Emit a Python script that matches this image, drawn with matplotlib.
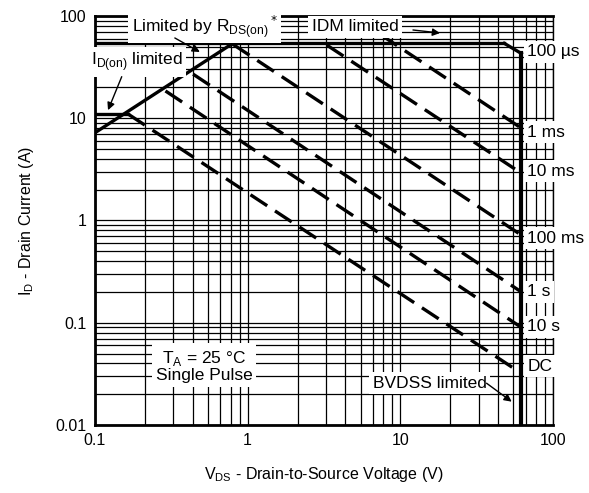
import matplotlib.pyplot as plt
from matplotlib.ticker import FixedLocator, NullFormatter

plt.rcParams['font.family'] = ['Liberation Sans', 'DejaVu Sans']

# limit lines, V and A
rds_v = [0.1, 0.8]
rds_i = [7.2, 54]
idon_v = [0.1, 0.165]
idon_i = [11, 11]
idm_v = [0.1, 48]
idm_i = [54, 54]
us100_v = [48, 62]
us100_i = [54, 43]
bvdss_v = [62, 62]
bvdss_i = [43, 0.01]

# single pulse lines
pulse_labels = ['1 ms', '10 ms', '100 ms', '1 s', '10 s', 'DC']
pulse_v = [[7.4, 62], [3.3, 62], [0.8, 62], [0.44, 62], [0.29, 62], [0.165, 62]]
pulse_i = [[66, 8.0], [52, 2.9], [53, 0.72], [27, 0.2], [18.5, 0.09], [11, 0.032]]
label_i = [7.3, 3.04, 0.674, 0.2, 0.0912, 0.0376]

xticks = [0.1, 1, 10, 100]
yticks = [0.01, 0.1, 1, 10, 100]

fig = plt.figure(figsize=(5.89, 4.93), dpi=100)
ax = fig.add_axes([0.161, 0.138, 0.778, 0.8295])
ax.set_xscale('log')
ax.set_yscale('log')
ax.set_xlim(0.1, 100)
ax.set_ylim(0.01, 100)

# grid as in the datasheet
xminor = [d * (1 + 1.125 * k) for d in (0.1, 1, 10) for k in range(1, 8)]
ax.xaxis.set_major_locator(FixedLocator(xticks))
ax.xaxis.set_minor_locator(FixedLocator(xminor))
ax.yaxis.set_major_locator(FixedLocator(yticks))
ax.yaxis.set_minor_locator(FixedLocator([d * k for d in (0.01, 0.1, 1, 10) for k in range(2, 10)]))
ax.xaxis.set_minor_formatter(NullFormatter())
ax.yaxis.set_minor_formatter(NullFormatter())
ax.set_xticklabels(['0.1', '1', '10', '100'])
ax.set_yticklabels(['0.01', '0.1', '1', '10', '100'])
ax.grid(True, which='both', color='black', lw=0.9)
ax.tick_params(which='both', length=0, labelsize=11.5, pad=6)
for s in ax.spines.values():
    s.set_linewidth(2)
ax.spines['right'].set_linewidth(1)

lw = 2.4
fs = 12.5
ax.plot(rds_v, rds_i, color='black', lw=lw, solid_capstyle='butt', zorder=4)
ax.plot(idon_v, idon_i, color='black', lw=lw, zorder=4)
ax.plot(idm_v, idm_i, color='black', lw=lw, zorder=4)
ax.plot(us100_v, us100_i, color='black', lw=lw, zorder=4)
ax.plot(bvdss_v, bvdss_i, color='black', lw=lw + 0.6, zorder=4)
for v, i in zip(pulse_v, pulse_i):
    ax.plot(v, i, color='black', lw=lw, ls=(0, (6, 2.8)), zorder=4)

box = dict(boxstyle='square,pad=0.2', fc='white', ec='none')
ax.text(68, 44.5, '100 µs', fontsize=fs, va='center', ha='left', bbox=box, zorder=5)
for lab, y in zip(pulse_labels, label_i):
    ax.text(68, y, lab, fontsize=fs, va='center', ha='left', bbox=box, zorder=5)

arrow = dict(arrowstyle='-|>', color='black', lw=1, mutation_scale=11, shrinkA=0, shrinkB=0)
ax.text(0.525, 79.8, 'Limited by R$_{\\mathregular{DS(on)}}$$^*$', ha='center', va='center',
        fontsize=fs, bbox=box, zorder=5)
ax.annotate('', xy=(0.487, 44.5), xytext=(0.334, 61), arrowprops=arrow, zorder=5)
ax.text(5.05, 78.5, 'IDM limited', ha='center', va='center', fontsize=fs, bbox=box, zorder=5)
ax.annotate('', xy=(18.2, 68.2), xytext=(12.1, 73), arrowprops=arrow, zorder=5)
ax.text(0.188, 35.5, 'I$_{\\mathregular{D(on)}}$ limited', ha='center', va='center', fontsize=fs,
        bbox=box, zorder=5)
ax.annotate('', xy=(0.122, 12.0), xytext=(0.150, 25.5), arrowprops=arrow, zorder=5)
ax.text(15.6, 0.0257, 'BVDSS limited', ha='center', va='center', fontsize=fs, bbox=box, zorder=5)
ax.annotate('', xy=(53.6, 0.0169), xytext=(36.7, 0.0256), arrowprops=arrow, zorder=5)
ax.text(0.518, 0.0378, 'T$_\\mathregular{A}$ = 25 °C\nSingle Pulse', ha='center', va='center',
        fontsize=fs, bbox=box, zorder=5, linespacing=1.05)

ax.set_xlabel('V$_{\\mathregular{DS}}$ - Drain-to-Source Voltage (V)', fontsize=11.5, labelpad=12)
ax.set_ylabel('I$_\\mathregular{D}$ - Drain Current (A)', fontsize=11.5, labelpad=14)

fig.savefig('out.png', dpi=100)
